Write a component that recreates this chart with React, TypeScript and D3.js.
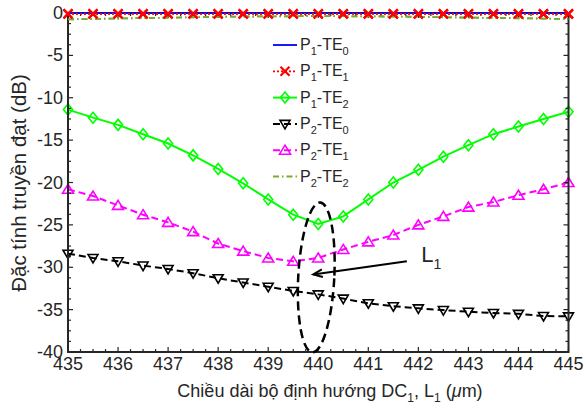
import React from 'react';
import * as d3 from 'd3';

const lengths = [435, 435.5, 436, 436.5, 437, 437.5, 438, 438.5, 439, 439.5, 440, 440.5, 441, 441.5, 442, 442.5, 443, 443.5, 444, 444.5, 445];

const p1te0 = [-0.02, -0.02, -0.02, -0.02, -0.02, -0.02, -0.02, -0.02, -0.02, -0.02, -0.02, -0.02, -0.02, -0.02, -0.02, -0.02, -0.02, -0.02, -0.02, -0.02, -0.02];
const p1te1 = [-0.1, -0.1, -0.1, -0.1, -0.1, -0.1, -0.1, -0.1, -0.1, -0.1, -0.1, -0.1, -0.1, -0.1, -0.1, -0.1, -0.1, -0.1, -0.1, -0.1, -0.1];
const p1te2 = [-11.4, -12.35, -13.2, -14.3, -15.4, -16.8, -18.4, -20.1, -22.0, -23.8, -24.9, -24.0, -22.0, -20.0, -18.5, -16.95, -15.6, -14.3, -13.4, -12.5, -11.65];
const p2te0 = [-28.4, -28.9, -29.3, -29.8, -30.2, -30.7, -31.3, -31.8, -32.3, -32.8, -33.2, -33.7, -34.25, -34.6, -34.85, -35.05, -35.25, -35.4, -35.5, -35.75, -35.8];
const p2te1 = [-20.8, -21.6, -22.7, -23.8, -24.7, -25.8, -27.2, -28.1, -28.9, -29.3, -28.9, -27.9, -27.0, -26.2, -25.0, -24.0, -22.9, -22.3, -21.5, -20.8, -20.0];
const p2te2 = [-0.75, -0.7, -0.65, -0.6, -0.55, -0.5, -0.45, -0.42, -0.4, -0.38, -0.37, -0.38, -0.4, -0.42, -0.45, -0.5, -0.55, -0.58, -0.62, -0.66, -0.72];

const xTicks = [435, 436, 437, 438, 439, 440, 441, 442, 443, 444, 445];
const yTicks = [0, -5, -10, -15, -20, -25, -30, -35, -40];

const W = 585, H = 416;
const L = 68, R = 568.5, T = 13, B = 352;
const FONT = "'Liberation Sans', Arial, Helvetica, sans-serif";
const AX = '#262626';

type Marker = 'none' | 'x' | 'diamond' | 'tri-up' | 'tri-down';

const series: { name: [string, string, string, string]; values: number[]; color: string; width: number; dash?: string; marker: Marker }[] = [
  { name: ['P', '1', '-TE', '0'], values: p1te0, color: '#0000FF', width: 1.8, marker: 'none' },
  { name: ['P', '1', '-TE', '1'], values: p1te1, color: '#FF0000', width: 1.8, dash: '2,2', marker: 'x' },
  { name: ['P', '1', '-TE', '2'], values: p1te2, color: '#00FF00', width: 2, marker: 'diamond' },
  { name: ['P', '2', '-TE', '0'], values: p2te0, color: '#000000', width: 2, dash: '7,4', marker: 'tri-down' },
  { name: ['P', '2', '-TE', '1'], values: p2te1, color: '#FF00FF', width: 2, dash: '7,4', marker: 'tri-up' },
  { name: ['P', '2', '-TE', '2'], values: p2te2, color: '#77AC30', width: 1.8, dash: '6,3,1.5,3', marker: 'none' },
];

function markerPath(m: Marker, cx: number, cy: number): string | null {
  switch (m) {
    case 'x': {
      const s = 4.5;
      return `M${cx - s},${cy - s}L${cx + s},${cy + s}M${cx - s},${cy + s}L${cx + s},${cy - s}`;
    }
    case 'diamond':
      return `M${cx},${cy - 5.5}L${cx + 4.5},${cy}L${cx},${cy + 5.5}L${cx - 4.5},${cy}Z`;
    case 'tri-up':
      return `M${cx},${cy - 5}L${cx + 5.5},${cy + 4}L${cx - 5.5},${cy + 4}Z`;
    case 'tri-down':
      return `M${cx},${cy + 5}L${cx + 5},${cy - 3.5}L${cx - 5},${cy - 3.5}Z`;
    default:
      return null;
  }
}

export default function App() {
  const x = d3.scaleLinear().domain([435, 445]).range([L, R]);
  const y = d3.scaleLinear().domain([-40, 0]).range([B, T]);

  const xMinor = d3.range(435, 445.001, 0.25);
  const yMinor = d3.range(-40, 0.001, 1.25);

  const line = d3.line<number>().x((_, i) => x(lengths[i])).y((d) => y(d));

  // annotation (in data units)
  const ell = { cx: 439.96, cy: -31.2, rx: 0.36, ry: 8.85 };
  const arrowFrom: [number, number] = [441.77, -29.3];
  const arrowTo: [number, number] = [439.9, -30.85];
  const ax0 = x(arrowFrom[0]), ay0 = y(arrowFrom[1]);
  const ax1 = x(arrowTo[0]), ay1 = y(arrowTo[1]);
  const ang = Math.atan2(ay1 - ay0, ax1 - ax0);
  const hl = 10, hw = 0.4;
  const h1 = [ax1 - hl * Math.cos(ang - hw), ay1 - hl * Math.sin(ang - hw)];
  const h2 = [ax1 - hl * Math.cos(ang + hw), ay1 - hl * Math.sin(ang + hw)];

  const legX = 273, legY0 = 45, legDy = 26.3;

  return (
    <svg width={W} height={H} style={{ position: 'absolute', left: 0, top: 0, background: '#fff' }} fontFamily={FONT}>
      <rect x={0} y={0} width={W} height={H} fill="#fff" />

      {/* series */}
      {series.map((s, si) => (
        <g key={si}>
          <path d={line(s.values) || ''} fill="none" stroke={s.color} strokeWidth={s.width} strokeDasharray={s.dash} />
          {s.values.map((v, i) => {
            const p = markerPath(s.marker, x(lengths[i]), y(v));
            return p ? <path key={i} d={p} fill="none" stroke={s.color} strokeWidth={s.marker === 'x' ? 2.2 : 1.6} /> : null;
          })}
        </g>
      ))}

      {/* axes box */}
      <g stroke={AX} strokeWidth={1.2}>
        {xMinor.map((t, i) => {
          const major = Math.abs(t - Math.round(t)) < 1e-6;
          const len = major ? 5 : 3;
          return (
            <g key={'xt' + i}>
              <line x1={x(t)} x2={x(t)} y1={B} y2={B - len} />
              <line x1={x(t)} x2={x(t)} y1={T} y2={T + len} />
            </g>
          );
        })}
        {yMinor.map((t, i) => {
          const major = Math.abs(t / 5 - Math.round(t / 5)) < 1e-6;
          const len = major ? 5 : 3;
          return (
            <g key={'yt' + i}>
              <line x1={L} x2={L + len} y1={y(t)} y2={y(t)} />
              <line x1={R} x2={R - len} y1={y(t)} y2={y(t)} />
            </g>
          );
        })}
      </g>
      <rect x={L} y={T} width={R - L} height={B - T} fill="none" stroke={AX} strokeWidth={2} />
      {/* redraw top lines over the top border */}
      <path d={line(p2te2) || ''} fill="none" stroke="#77AC30" strokeWidth={1.8} strokeDasharray="6,3,1.5,3" />
      <path d={line(p1te0) || ''} fill="none" stroke="#0000FF" strokeWidth={1.8} />
      <path d={line(p1te1) || ''} fill="none" stroke="#FF0000" strokeWidth={1.8} strokeDasharray="2,2" />
      {p1te1.map((v, i) => (
        <path key={'rx' + i} d={markerPath('x', x(lengths[i]), y(v)) || ''} fill="none" stroke="#FF0000" strokeWidth={2.2} />
      ))}

      {/* tick labels */}
      <g fontSize={18} fill="#262626">
        {xTicks.map((t) => (
          <text key={'xl' + t} x={x(t)} y={B + 18} textAnchor="middle">{t}</text>
        ))}
        {yTicks.map((t) => (
          <text key={'yl' + t} x={L - 5} y={y(t) + 6} textAnchor="end">{t < 0 ? '-' + Math.abs(t) : t}</text>
        ))}
      </g>

      {/* axis titles */}
      <text x={330} y={397} textAnchor="middle" fontSize={18} fill="#262626">
        Chiều dài bộ định hướng DC<tspan fontSize={12} dy={5}>1</tspan>
        <tspan dy={-5}>, L</tspan><tspan fontSize={12} dy={5}>1</tspan>
        <tspan dy={-5}> (</tspan><tspan fontStyle="italic">μ</tspan>m)
      </text>
      <text transform={`translate(26,183) rotate(-90)`} textAnchor="middle" fontSize={20.5} fill="#262626">
        Đặc tính truyền đạt (dB)
      </text>

      {/* legend */}
      {series.map((s, i) => {
        const cy = legY0 + i * legDy;
        const mp = markerPath(s.marker, legX + 12, cy);
        return (
          <g key={'lg' + i}>
            <line x1={legX} x2={legX + 24} y1={cy} y2={cy} stroke={s.color} strokeWidth={s.width} strokeDasharray={s.dash} />
            {mp && <path d={mp} fill="none" stroke={s.color} strokeWidth={s.marker === 'x' ? 2.2 : 1.6} />}
            <text x={legX + 27} y={cy + 5} fontSize={16} fill="#262626">
              {s.name[0]}<tspan fontSize={11} dy={5}>{s.name[1]}</tspan>
              <tspan dy={-5}>{s.name[2]}</tspan><tspan fontSize={11} dy={5}>{s.name[3]}</tspan>
            </text>
          </g>
        );
      })}

      {/* annotation */}
      <ellipse
        cx={x(ell.cx)} cy={y(ell.cy)}
        rx={x(ell.cx + ell.rx) - x(ell.cx)} ry={y(ell.cy - ell.ry) - y(ell.cy)}
        transform={`rotate(3 ${x(ell.cx)} ${y(ell.cy)})`}
        fill="none" stroke="#000" strokeWidth={2.5} strokeDasharray="9,5"
      />
      <line x1={ax0} y1={ay0} x2={ax1} y2={ay1} stroke="#000" strokeWidth={2} />
      <path d={`M${h1[0]},${h1[1]}L${ax1},${ay1}L${h2[0]},${h2[1]}`} fill="none" stroke="#000" strokeWidth={2} />
      <text x={x(442.06)} y={y(-29.4)} fontSize={22} fill="#262626">
        L<tspan fontSize={14} dy={7}>1</tspan>
      </text>
    </svg>
  );
}
